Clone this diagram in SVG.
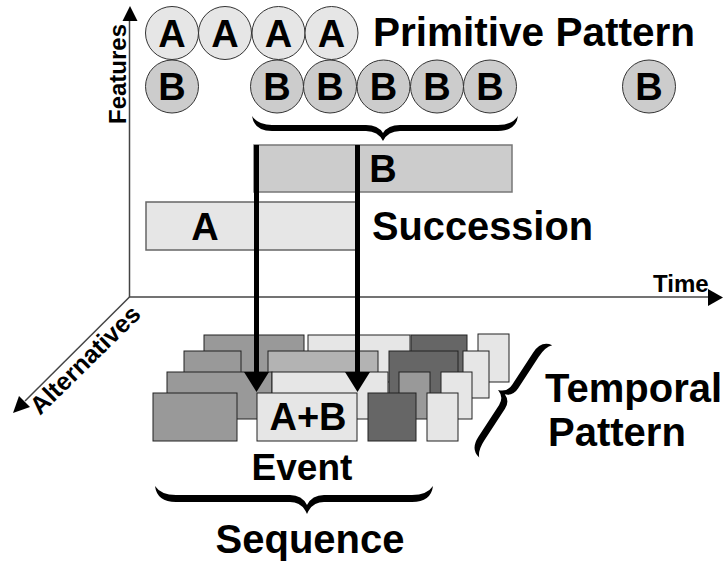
<svg xmlns="http://www.w3.org/2000/svg" width="728" height="565" viewBox="0 0 728 565">
  <style>
    text { font-family: "Liberation Sans", Arial, sans-serif; font-weight: bold; fill: #000; }
    .lbl { font-size: 40px; }
    .ax { font-size: 24px; }
    .ltr { font-size: 38px; text-anchor: middle; }
    .ca { fill: #e6e6e6; stroke: #333; stroke-width: 1; }
    .cb { fill: #cccccc; stroke: #333; stroke-width: 1; }
    .axis { stroke: #444; stroke-width: 1.5; fill: none; }
    .head { fill: #000; }
    .flow { stroke: #000; stroke-width: 5; fill: none; }
    .r { stroke: #222; stroke-width: 1; }
    .g1 { fill: #999999; }
    .g2 { fill: #b3b3b3; }
    .g3 { fill: #e6e6e6; }
    .g4 { fill: #666666; }
    .brace { fill: #000; }
  </style>

  <!-- axes -->
  <g id="axes">
    <line class="axis" x1="129.5" y1="297" x2="129.5" y2="18"/>
    <polygon class="head" points="130,6 122.5,21 137.5,21"/>
    <line class="axis" x1="129" y1="297" x2="710" y2="297"/>
    <polygon class="head" points="723,297.5 708,289 708,306"/>
    <line class="axis" x1="129.5" y1="297" x2="25" y2="401"/>
    <polygon class="head" points="13,413 19,396 30,407"/>
    <text class="ax" transform="translate(126,124) rotate(-90)">Features</text>
    <text class="ax" x="653" y="292">Time</text>
    <text class="ax" transform="translate(40,416) rotate(-44.5)" style="font-size:25px">Alternatives</text>
  </g>

  <!-- primitive pattern: feature occurrences -->
  <g id="primitive-a">
    <circle class="ca" cx="172" cy="33" r="26.5"/>
    <circle class="ca" cx="225" cy="33" r="26.5"/>
    <circle class="ca" cx="278.5" cy="33" r="26.5"/>
    <circle class="ca" cx="331.5" cy="33" r="26.5"/>
    <text class="ltr" x="172" y="47">A</text>
    <text class="ltr" x="225" y="47">A</text>
    <text class="ltr" x="278.5" y="47">A</text>
    <text class="ltr" x="331.5" y="47">A</text>
  </g>
  <g id="primitive-b">
    <circle class="cb" cx="172" cy="86.5" r="26.5"/>
    <circle class="cb" cx="277" cy="86.5" r="26.5"/>
    <circle class="cb" cx="330" cy="86.5" r="26.5"/>
    <circle class="cb" cx="383.5" cy="86.5" r="26.5"/>
    <circle class="cb" cx="437" cy="86.5" r="26.5"/>
    <circle class="cb" cx="490" cy="86.5" r="26.5"/>
    <circle class="cb" cx="649" cy="86.5" r="26.5"/>
    <text class="ltr" x="172" y="100">B</text>
    <text class="ltr" x="277" y="100">B</text>
    <text class="ltr" x="330" y="100">B</text>
    <text class="ltr" x="383.5" y="100">B</text>
    <text class="ltr" x="437" y="100">B</text>
    <text class="ltr" x="490" y="100">B</text>
    <text class="ltr" x="649" y="100">B</text>
  </g>
  <g id="primitive-label">
    <text class="lbl" x="373" y="46" textLength="322" lengthAdjust="spacingAndGlyphs">Primitive Pattern</text>
  </g>

  <!-- brace grouping the B run -->
  <g id="brace-b">
    <path class="brace" d="M252,116 Q254,131 272,131 L366,131 Q378,131 383,141 Q388,131 400,131 L498,131 Q516,131 518,116 Q512,125 498,125 L400,125 Q388,125 383,133 Q378,125 366,125 L272,125 Q258,125 252,116 Z"/>
  </g>

  <!-- succession intervals -->
  <g id="interval-b">
    <rect x="254" y="145" width="258" height="47" fill="#cccccc" stroke="#777" stroke-width="1.5"/>
    <text class="ltr" x="383" y="182">B</text>
  </g>
  <g id="interval-a">
    <rect x="146" y="202" width="210" height="48" fill="#e6e6e6" stroke="#666" stroke-width="1.5"/>
    <text class="ltr" x="205" y="240">A</text>
  </g>
  <g id="succession-label">
    <text class="lbl" x="372" y="240" textLength="221" lengthAdjust="spacingAndGlyphs">Succession</text>
  </g>

  <!-- temporal pattern: stacked event rows -->
  <g id="row-1">
    <rect class="r g1" x="204" y="335" width="100" height="47"/>
    <rect class="r g3" x="308" y="335" width="102" height="47"/>
    <rect class="r g4" x="411" y="335" width="56" height="47"/>
    <rect class="r g3" x="478" y="334" width="31" height="48"/>
  </g>
  <g id="row-2">
    <rect class="r g1" x="184" y="351" width="57" height="47"/>
    <rect class="r g2" x="268" y="351" width="110" height="47"/>
    <rect class="r g4" x="389" y="351" width="69" height="47"/>
    <rect class="r g3" x="463" y="351" width="26" height="47"/>
  </g>
  <g id="row-3">
    <rect class="r g1" x="167" y="372" width="105" height="47"/>
    <rect class="r g3" x="272" y="372" width="116" height="47"/>
    <rect class="r g1" x="399" y="372" width="31" height="47"/>
    <rect class="r g3" x="441" y="372" width="31" height="47"/>
  </g>

  <!-- projections from the succession into the event -->
  <g id="connectors">
    <line class="flow" x1="256.5" y1="145" x2="256.5" y2="374"/>
    <polygon class="head" points="244,372 269,372 256.5,392"/>
    <line class="flow" x1="357.5" y1="145" x2="357.5" y2="374"/>
    <polygon class="head" points="345,372 370,372 357.5,392"/>
  </g>

  <g id="row-4">
    <rect class="r g1" x="153" y="393" width="84" height="48"/>
    <rect class="r g4" x="368" y="393" width="48" height="48"/>
    <rect class="r g3" x="427" y="393" width="31" height="48"/>
  </g>
  <g id="event">
    <rect class="r g3" x="257" y="393" width="100" height="48"/>
    <text class="ltr" x="308" y="430">A+B</text>
    <text class="lbl" x="302" y="480" text-anchor="middle" style="font-size:37px">Event</text>
  </g>

  <!-- sequence brace and label -->
  <g id="sequence">
    <path class="brace" d="M155,486 Q157,502 176,502 L290,502 Q302,502 307,514 Q312,502 324,502 L412,502 Q431,502 433,486 Q427,495 412,495 L324,495 Q312,495 307,505 Q302,495 290,495 L176,495 Q161,495 155,486 Z"/>
    <text class="lbl" x="310" y="553" text-anchor="middle">Sequence</text>
  </g>

  <!-- temporal pattern brace and label -->
  <g id="temporal-pattern">
    <path class="brace" transform="translate(509,397) rotate(33)" d="M8,-67 Q-4,-65 -4,-50 L-4,-12 Q-4,-3 -13,0 Q-4,3 -4,12 L-4,50 Q-4,65 8,67 Q3,62 3,50 L3,12 Q3,3 -5,0 Q3,-3 3,-12 L3,-50 Q3,-62 8,-67 Z"/>
    <text class="lbl" x="545" y="402">Temporal</text>
    <text class="lbl" x="548" y="446">Pattern</text>
  </g>
</svg>
